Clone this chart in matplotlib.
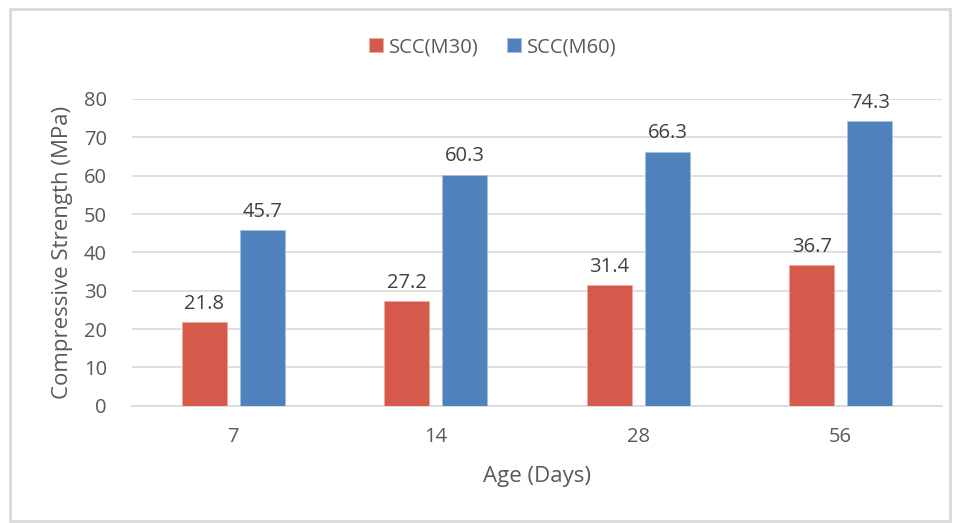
import matplotlib

matplotlib.use("Agg")
import matplotlib.pyplot as plt
import numpy as np
from matplotlib.patches import Rectangle

ages = ["7", "14", "28", "56"]
series_names = ["SCC(M30)", "SCC(M60)"]
m30_strength = [21.8, 27.2, 31.4, 36.7]
m60_strength = [45.7, 60.3, 66.3, 74.3]

RED = "#D55A4C"
BLUE = "#4F81BD"
TEXT = "#595959"
GRID = "#D9D9D9"

plt.rcParams["font.family"] = ["Open Sans", "DejaVu Sans"]

fig = plt.figure(figsize=(9.6, 5.23), dpi=100)
fig.patches.append(
    Rectangle((10 / 960, 1 - 521 / 523), 940 / 960, 512 / 523,
              transform=fig.transFigure, fill=False, edgecolor=GRID, linewidth=2)
)
ax = fig.add_axes([132 / 960, 1 - 405.7 / 523, 810 / 960, 306.7 / 523])

x = np.arange(len(ages))
width = 0.222
offset = 0.144
bars1 = ax.bar(x - offset, m30_strength, width, color=RED, edgecolor="#F0A89E",
               linewidth=0.6, label=series_names[0], zorder=3)
bars2 = ax.bar(x + offset, m60_strength, width, color=BLUE, edgecolor="#A7C0E0",
               linewidth=0.6, label=series_names[1], zorder=3)
for bars in (bars1, bars2):
    ax.bar_label(bars, labels=[f"{v:.1f}" for v in bars.datavalues], padding=6,
                 fontsize=14.5, color="#404040")

ax.set_xlim(-0.5, len(ages) - 0.5)
ax.set_ylim(0, 80)
ax.set_yticks(range(0, 81, 10))
ax.set_xticks(x)
ax.set_xticklabels(ages)
ax.yaxis.grid(True, color=GRID, linewidth=1.2, zorder=0)
ax.set_axisbelow(True)
for side in ("top", "right", "left"):
    ax.spines[side].set_visible(False)
ax.spines["bottom"].set_color(GRID)
ax.spines["bottom"].set_linewidth(1.2)
ax.tick_params(axis="both", length=0, labelsize=14.5, labelcolor=TEXT)
ax.tick_params(axis="x", pad=15)
ax.tick_params(axis="y", pad=18)
ax.set_xlabel("Age (Days)", fontsize=16, color=TEXT, labelpad=14)
ax.set_ylabel("Compressive Strength (MPa)", fontsize=16, color=TEXT, labelpad=8)

fig.legend(loc="center", bbox_to_anchor=(493 / 960, 1 - 47 / 523), ncol=2,
           frameon=False, fontsize=14.5, labelcolor=TEXT, handlelength=0.7,
           handleheight=0.7, handletextpad=0.3, columnspacing=1.4)

fig.savefig("out.png", dpi=100)
